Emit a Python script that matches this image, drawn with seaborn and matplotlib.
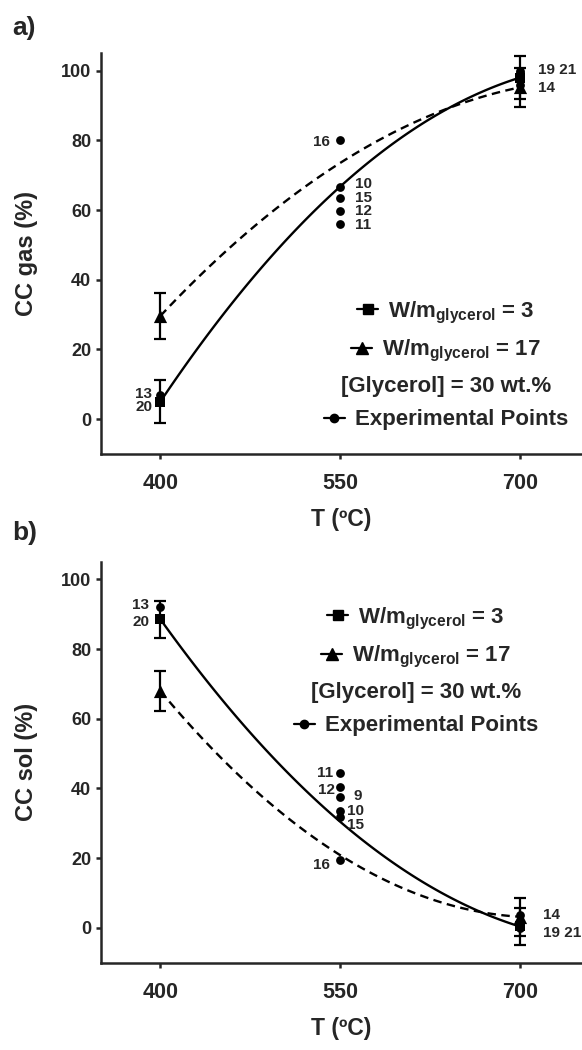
import numpy as np
import matplotlib
matplotlib.use("Agg")
import matplotlib.pyplot as plt
from matplotlib.lines import Line2D
import seaborn as sns

# ---------------- data ----------------
T_model = [400, 550, 700]
T_marks = [400, 700]

# panel a) CC gas (%)
gas_w3 = [5.0, 66.7, 98.0]
gas_w17 = [29.6, 73.5, 95.2]
gas_w3_err = [6.1, 6.2]
gas_w17_err = [6.7, 5.6]

gas_exp_T = [400, 400, 550, 550, 550, 550, 550, 700, 700, 700]
gas_exp_val = [7.0, 5.0, 80.1, 66.7, 63.4, 59.8, 56.0, 99.8, 99.3, 96.0]
gas_exp_lab = ["13", "20", "16", "10", "15", "12", "11", "19 21", "", "14"]

# panel b) CC sol (%)
sol_w3 = [88.6, 30.5, 0.4]
sol_w17 = [68.0, 20.9, 3.2]
sol_w3_err = [5.3, 5.3]
sol_w17_err = [5.8, 5.5]

sol_exp_T = [400, 400, 550, 550, 550, 550, 550, 550, 700, 700, 700]
sol_exp_val = [92.0, 88.6, 44.4, 40.4, 37.5, 33.4, 31.8, 19.5, 3.7, 0.5, 0.0]
sol_exp_lab = ["13", "20", "11", "12", "9", "10", "15", "16", "14", "19 21", ""]

legend_labels = ["W/m$_{glycerol}$ = 3", "W/m$_{glycerol}$ = 17",
                 "[Glycerol] = 30 wt.%", "Experimental Points"]
x_ticks = [400, 550, 700]
y_ticks = [0, 20, 40, 60, 80, 100]

# ---------------- layout / style ----------------
gas_offsets = [(-8, 1, "right"), (-8, -5, "right"), (-10, -2, "right"),
               (15, 3, "left"), (15, 0, "left"), (15, 0, "left"), (15, -1, "left"),
               (18, 1, "left"), (18, 0, "left"), (18, -3, "left")]
sol_offsets = [(-11, 2, "right"), (-11, -2.5, "right"), (-7, 0, "right"),
               (-5, -3, "right"), (13, 1, "left"), (7, 0, "left"), (7, -8, "left"),
               (-10, -5, "right"), (23, 0, "left"), (23, -7, "left"), (23, 0, "left")]

sns.set_style("ticks")
plt.rcParams["font.family"] = ["Liberation Sans", "DejaVu Sans"]
plt.rcParams["font.weight"] = "bold"
plt.rcParams["axes.labelweight"] = "bold"
plt.rcParams["mathtext.default"] = "regular"

fig = plt.figure(figsize=(5.82, 10.5), dpi=100)
W, H = 582, 1050
ax_a = fig.add_axes([101 / W, 1 - 454 / H, 481 / W, 400.7 / H])
ax_b = fig.add_axes([101 / W, 1 - 962.7 / H, 481 / W, 400.7 / H])

LW = 1.7
DASH = (0, (3.6, 2.3))


def draw_panel(ax, w3, w17, w3_err, w17_err, exp_T, exp_val, exp_lab, offsets,
               ylabel, leg_pos):
    sns.regplot(x=T_model, y=w3, order=2, ci=None, scatter=False, ax=ax,
                line_kws=dict(color="black", lw=LW, ls="-"))
    sns.regplot(x=T_model, y=w17, order=2, ci=None, scatter=False, ax=ax,
                line_kws=dict(color="black", lw=LW, ls=DASH))
    w3_m = [w3[0], w3[2]]
    w17_m = [w17[0], w17[2]]
    ax.errorbar(T_marks, w3_m, yerr=w3_err, fmt="none", ecolor="black",
                elinewidth=1.6, capsize=4.5, capthick=1.6, zorder=3)
    ax.errorbar(T_marks, w17_m, yerr=w17_err, fmt="none", ecolor="black",
                elinewidth=1.6, capsize=4.5, capthick=1.6, zorder=3)
    sns.scatterplot(x=exp_T, y=exp_val, marker="o", s=40, color="black",
                    edgecolor="black", linewidth=0, ax=ax, zorder=4)
    sns.scatterplot(x=T_marks, y=w3_m, marker="s", s=55, color="black",
                    edgecolor="black", linewidth=0, ax=ax, zorder=5)
    sns.scatterplot(x=T_marks, y=w17_m, marker="^", s=90, color="black",
                    edgecolor="black", linewidth=0, ax=ax, zorder=5)

    for t, v, lab, (dx, dy, ha) in zip(exp_T, exp_val, exp_lab, offsets):
        if lab:
            ax.annotate(lab, (t, v), xytext=(dx, dy), textcoords="offset pixels",
                        ha=ha, va="center", fontsize=11, fontweight="bold",
                        annotation_clip=False)

    ax.set_xlim(350.5, 752)
    ax.set_ylim(-10, 105)
    ax.set_xticks(x_ticks)
    ax.set_yticks(y_ticks)
    ax.set_xlabel("T (ºC)", fontsize=16.5, fontweight="bold")
    ax.set_ylabel(ylabel, fontsize=17, fontweight="bold")
    ax.xaxis.set_label_coords(0.5, -0.135)
    ax.yaxis.set_label_coords(-0.13, 0.5)
    ax.tick_params(axis="y", labelsize=13, width=1.8, length=3.6, pad=3.5)
    ax.tick_params(axis="x", labelsize=15.5, width=1.8, length=3.6, pad=10)
    for s in ("top", "right"):
        ax.spines[s].set_visible(False)
    for s in ("left", "bottom"):
        ax.spines[s].set_linewidth(1.8)

    handles = [Line2D([], [], color="black", marker="s", ms=7, lw=1.6),
               Line2D([], [], color="black", marker="^", ms=9, lw=1.6),
               Line2D([], [], ls="none"),
               Line2D([], [], color="black", marker="o", ms=6, lw=1.6)]
    leg = ax.legend(handles, legend_labels, loc="center", bbox_to_anchor=leg_pos,
                    frameon=False, prop=dict(size=16, weight="bold"),
                    handlelength=0.95, handletextpad=0.45, labelspacing=0.55,
                    borderpad=0)
    try:
        for col in leg._legend_handle_box.get_children():
            col.align = "center"
            rows = col.get_children()
            del rows[2].get_children()[0]
    except Exception:
        pass


draw_panel(ax_a, gas_w3, gas_w17, gas_w3_err, gas_w17_err, gas_exp_T, gas_exp_val,
           gas_exp_lab, gas_offsets, "CC gas (%)", (0.717, 0.222))
draw_panel(ax_b, sol_w3, sol_w17, sol_w3_err, sol_w17_err, sol_exp_T, sol_exp_val,
           sol_exp_lab, sol_offsets, "CC sol (%)", (0.655, 0.728))

fig.text(12 / W, 1 - 27.5 / H, "a)", fontsize=19, fontweight="bold", va="center")
fig.text(12 / W, 1 - 533 / H, "b)", fontsize=19, fontweight="bold", va="center")

fig.savefig("out.png", dpi=100)
